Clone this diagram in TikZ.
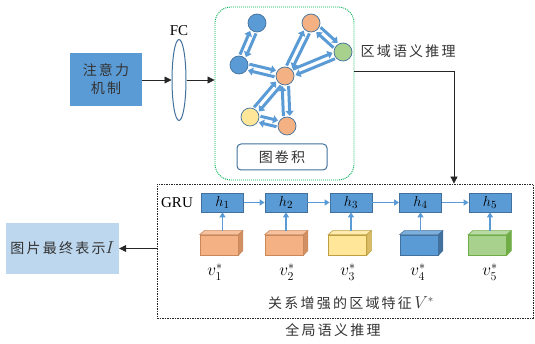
\documentclass[tikz,border=0pt]{standalone}
\usepackage{fontspec}
\setmainfont{Liberation Serif}
\newfontfamily\cjk[LetterSpace=16]{Noto Sans CJK SC}
\usetikzlibrary{arrows.meta,calc,shapes.geometric}
\definecolor{mblue}{HTML}{5B9BD5}
\definecolor{dblue}{HTML}{41719C}
\definecolor{lblue}{HTML}{BDD7EE}
\definecolor{morange}{HTML}{F4B183}
\definecolor{borange}{HTML}{C9875A}
\definecolor{myellow}{HTML}{FFE699}
\definecolor{byellow}{HTML}{BFA040}
\definecolor{mgreen}{HTML}{A9D18E}
\definecolor{bgreen}{HTML}{70AD47}
\definecolor{ggreen}{HTML}{00B050}
\definecolor{txt}{HTML}{333333}
\tikzset{
  barr/.style={draw=black!85, line width=0.8pt, -{Triangle[length=7pt,width=7pt]}},
  garr/.style={draw=mblue, line width=3pt, -{Triangle[length=5pt,width=8pt]}},
  harr/.style={draw=mblue, line width=1.6pt, -{Triangle[length=5pt,width=6pt]}},
  gnode/.style={circle, draw=dblue, line width=0.7pt, minimum size=18pt, inner sep=0pt},
  hbox/.style={draw=dblue, fill=mblue, line width=0.7pt, minimum width=42pt, minimum height=19pt, inner sep=0pt, font=\fontsize{15pt}{16pt}\selectfont},
  cjktext/.style={text=txt, font=\fontsize{14pt}{18pt}\selectfont\cjk},
  vlab/.style={font=\fontsize{18pt}{20pt}\selectfont},
}
\newcommand{\dbl}[2]{%
  \draw[garr] ($(#1)!10pt!(#2)!3.2pt!90:(#2)$) -- ($(#2)!10pt!(#1)!3.2pt!-90:(#1)$);
  \draw[garr] ($(#2)!10pt!(#1)!3.2pt!90:(#1)$) -- ($(#1)!10pt!(#2)!3.2pt!-90:(#2)$);}
\newcommand{\mycube}[5]{% name, x, fill, border, side
  \node[draw=#4, fill=#3, line width=0.6pt, minimum width=38pt, minimum height=20pt, inner sep=0pt] (#1) at (#2,245) {};
  \filldraw[fill=#3!80!white, draw=#4, line width=0.6pt] (#1.north west) -- ++(4.5,-4) -- ($(#1.north east)+(4.5,-4)$) -- (#1.north east) -- cycle;
  \filldraw[fill=#5, draw=#4, line width=0.6pt] (#1.north east) -- ++(4.5,-4) -- ++(0,20) -- (#1.south east) -- cycle;}
\begin{document}
\begin{tikzpicture}[x=1pt,y=-1pt, font=\fontsize{15pt}{17pt}\selectfont]
\useasboundingbox (0,0) rectangle (535,344);
% attention
\node[fill=mblue, minimum width=72pt, minimum height=53pt, align=center, cjktext] (att) at (106,79.5) {注意力\\机制};
\node[ellipse, draw=dblue, line width=1pt, fill=white, minimum width=14pt, minimum height=81pt, inner sep=0pt] (fc) at (179,80) {};
\node[text=black] (fcl) at (179,31) {FC};
% green graph box
\node[draw=ggreen, line width=0.9pt, dash pattern=on 1pt off 1pt, rounded corners=16pt, minimum width=139pt, minimum height=173pt] (gc) at (284.5,93.5) {};
\draw[barr] (att.east |- fc) -- (fc.west);
\draw[barr] (fc.east) -- (fc.east -| gc.west);
% graph nodes
\node[gnode, fill=mblue] (n1) at (257,23) {};
\node[gnode, fill=mblue] (n2) at (239,65) {};
\node[gnode, fill=morange] (n3) at (311,23) {};
\node[gnode, fill=mgreen] (n4) at (343,52) {};
\node[gnode, fill=morange] (n5) at (285,76) {};
\node[gnode, fill=myellow] (n6) at (250,117) {};
\node[gnode, fill=morange] (n7) at (287,126) {};
\dbl{n1}{n2}
\dbl{n2}{n5}
\dbl{n5}{n3}
\dbl{n3}{n4}
\dbl{n4}{n5}
\dbl{n5}{n6}
\dbl{n5}{n7}
\dbl{n6}{n7}
\node[draw=dblue, fill=white, line width=1pt, rounded corners=4pt, minimum width=90pt, minimum height=26pt, cjktext] (gcl) at (282,157) {图卷积};
\node[anchor=west, cjktext] (rl) at (357,51) {区域语义推理};
% global box
\node[draw=black!85, line width=0.8pt, dash pattern=on 1.5pt off 1pt, minimum width=376pt, minimum height=134pt] (dbox) at (345,251) {};
\coordinate (turn) at (454,71);
\draw[barr] (gc.east |- turn) -- (turn) -- (turn |- dbox.north);
\node[cjktext] (gl) at (333,330) {全局语义推理};
\node[text=black] (gru) at (177,203) {GRU};
% h boxes
\node[hbox] (h1) at (222.5,202.5) {$h_1$};
\node[hbox] (h2) at (286,202.5) {$h_2$};
\node[hbox] (h3) at (351,202.5) {$h_3$};
\node[hbox] (h4) at (420.5,202.5) {$h_4$};
\node[hbox] (h5) at (490,202.5) {$h_5$};
\draw[harr] (h1) -- (h2);
\draw[harr] (h2) -- (h3);
\draw[harr] (h3) -- (h4);
\draw[harr] (h4) -- (h5);
% cubes
\mycube{c1}{219}{morange}{borange}{borange!80!morange}
\mycube{c2}{284}{morange}{borange}{borange!80!morange}
\mycube{c3}{347.5}{myellow}{byellow}{byellow!60!myellow}
\mycube{c4}{419}{mblue}{dblue}{dblue}
\mycube{c5}{487.5}{mgreen}{bgreen}{bgreen}
\draw[harr] ([yshift=4pt]c1.north -| h1.south) -- (h1.south);
\draw[harr] ([yshift=4pt]c2.north -| h2.south) -- (h2.south);
\draw[harr] ([yshift=4pt]c3.north -| h3.south) -- (h3.south);
\draw[harr] ([yshift=4pt]c4.north -| h4.south) -- (h4.south);
\draw[harr] ([yshift=4pt]c5.north -| h5.south) -- (h5.south);
\node[vlab] (v1) at (215,272) {$v_1^*$};
\node[vlab] (v2) at (287,272) {$v_2^*$};
\node[vlab] (v3) at (348,272) {$v_3^*$};
\node[vlab] (v4) at (418,272) {$v_4^*$};
\node[vlab] (v5) at (490,272) {$v_5^*$};
\node[cjktext] (fl) at (351,303) {关系增强的区域特征\,{\fontsize{16pt}{17pt}\selectfont$V^*$}};
% output
\node[fill=lblue, minimum width=113pt, minimum height=51pt, cjktext] (out) at (62.5,248.5) {图片最终表示{\fontsize{16pt}{17pt}\selectfont$I$}};
\draw[barr] (dbox.west |- out) -- (out.east);
\end{tikzpicture}
\end{document}
